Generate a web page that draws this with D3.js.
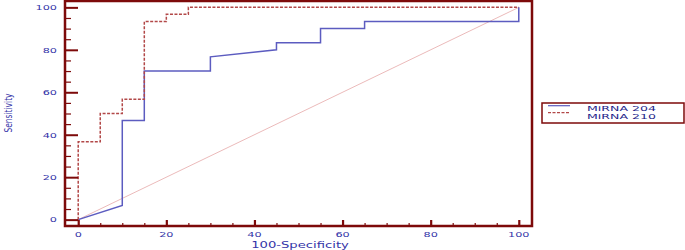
<!DOCTYPE html>
<html><head><meta charset="utf-8">
<script src="https://cdn.jsdelivr.net/npm/d3@7"></script>
<style>body{margin:0;background:#fff}svg{display:block}text{font-family:"DejaVu Sans",sans-serif}</style>
</head><body><svg id="c" width="685" height="250"></svg>
<script>
const xTicks = [0,20,40,60,80,100];
const yTicks = [0,20,40,60,80,100];
const seriesNames = ["MiRNA 204","MiRNA 210"];
const mirna204 = [[0,0],[10,6.7],[10,46.7],[15,46.7],[15,70],[30,70],[30,76.7],[45,80],[45,83.3],[55,83.3],[55,90],[65,90],[65,93.3],[100,93.3],[100,100]];
const mirna210 = [[0,0],[0,36.7],[5,36.7],[5,50],[10,50],[10,56.7],[15,56.7],[15,93.3],[20,93.3],[20,96.7],[25,96.7],[25,100],[100,100]];
const diagonal = [[0,0],[100,100]];

const svg = d3.select("#c");
const frame = "#7d0a0a";
const x = d3.scaleLinear().domain([-3,103]).range([65,532]);
const y = d3.scaleLinear().domain([-3,103]).range([226,1]);

function label(tx, ty, str, anchor, color, fs, sx, rot) {
  const g = svg.append("g").attr("transform", `translate(${tx},${ty}) scale(${sx},1)` + (rot ? ` rotate(${rot})` : ""));
  g.append("text").attr("text-anchor", anchor).attr("font-size", fs).attr("fill", color).text(str);
}

// diagonal
const line = d3.line().x(d => x(d[0])).y(d => y(d[1]));
svg.append("path").attr("d", line(diagonal)).attr("fill","none").attr("stroke","#e6a8a8").attr("stroke-width",0.8);
// series
svg.append("path").attr("d", line(mirna204)).attr("fill","none").attr("stroke","#5c5cc0").attr("stroke-width",1.5);
svg.append("path").attr("d", line(mirna210)).attr("fill","none").attr("stroke","#b24848").attr("stroke-width",1.5).attr("stroke-dasharray","3,1.5");

// axes ticks
const minor = d3.range(0,101,5).filter(v => v % 20 !== 0);
const yMaj = svg.append("g").attr("transform",`translate(${x(-3)},0)`).call(d3.axisLeft(y).tickValues(yTicks).tickSize(-13).tickFormat(""));
const yMin = svg.append("g").attr("transform",`translate(${x(-3)},0)`).call(d3.axisLeft(y).tickValues(minor).tickSize(-6).tickFormat(""));
const xMaj = svg.append("g").attr("transform",`translate(0,${y(-3)})`).call(d3.axisBottom(x).tickValues(xTicks).tickSize(-6).tickFormat(""));
const xMin = svg.append("g").attr("transform",`translate(0,${y(-3)})`).call(d3.axisBottom(x).tickValues(minor).tickSize(-3).tickFormat(""));
[yMaj,yMin,xMaj,xMin].forEach(g => { g.select(".domain").remove(); g.selectAll("line").attr("stroke",frame); });
yMaj.selectAll("line").attr("stroke-width",2);
yMin.selectAll("line").attr("stroke-width",1.2);
xMaj.selectAll("line").attr("stroke-width",2.2);
xMin.selectAll("line").attr("stroke-width",1.2);

// frame
svg.append("rect").attr("x",x(-3)).attr("y",y(103)).attr("width",x(103)-x(-3)).attr("height",y(-3)-y(103))
  .attr("fill","none").attr("stroke",frame).attr("stroke-width",2.5);

// tick labels
const tc = "#3434a8";
yTicks.forEach(v => label(57, y(v)+2.8, v, "end", tc, 7.5, 1.5));
xTicks.forEach(v => label(x(v), 236.5, v, "middle", tc, 7.5, 1.5));
label(300, 247.5, "100-Specificity", "middle", tc, 8.5, 1.55);
label(11.5, 113, "Sensitivity", "middle", tc, 7.5, 1.5, -90);

// legend
svg.append("rect").attr("x",542).attr("y",103).attr("width",142).attr("height",20).attr("fill","#fff").attr("stroke",frame).attr("stroke-width",1.5);
const legColors = ["#5c5cc0","#b24848"];
seriesNames.forEach((n,i) => {
  const ly = 105.7 + i*7;
  const l = svg.append("line").attr("x1",548).attr("x2",570).attr("y1",ly).attr("y2",ly).attr("stroke",legColors[i]).attr("stroke-width",1.2);
  if (i===1) l.attr("stroke-dasharray","3,1.5");
  label(587, 111.2 + i*7.6, n, "start", "#1e1e8a", 6.6, 1.9);
});
</script></body></html>
